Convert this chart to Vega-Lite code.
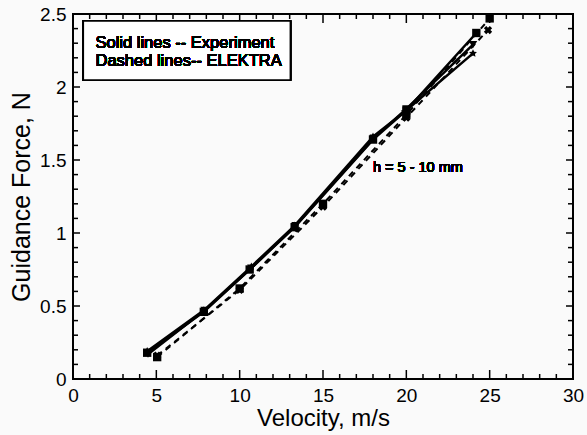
{
  "$schema": "https://vega.github.io/schema/vega-lite/v6.json",
  "width": 500,
  "height": 365,
  "autosize": "none",
  "padding": {"left": 73, "top": 14, "right": 14, "bottom": 56},
  "background": "#fafafa",
  "config": {
    "view": {"stroke": "black", "strokeWidth": 2},
    "font": "Liberation Sans",
    "axis": {"domain": false, "grid": false, "ticks": false, "labelFont": "Liberation Sans", "titleFont": "Liberation Sans", "labelColor": "black", "titleColor": "black", "titleFontWeight": "normal"}
  },
  "data": {"values": [
    {"series": "Exp h=5", "group": "Experiment", "v": 4.45, "F": 0.18},
    {"series": "Exp h=5", "group": "Experiment", "v": 7.85, "F": 0.46},
    {"series": "Exp h=5", "group": "Experiment", "v": 10.6, "F": 0.75},
    {"series": "Exp h=5", "group": "Experiment", "v": 13.3, "F": 1.04},
    {"series": "Exp h=5", "group": "Experiment", "v": 18.0, "F": 1.64},
    {"series": "Exp h=5", "group": "Experiment", "v": 20.0, "F": 1.84},
    {"series": "Exp h=5", "group": "Experiment", "v": 24.2, "F": 2.37},
    {"series": "Exp h=7.5", "group": "Experiment", "v": 4.5, "F": 0.17},
    {"series": "Exp h=7.5", "group": "Experiment", "v": 7.9, "F": 0.47},
    {"series": "Exp h=7.5", "group": "Experiment", "v": 10.7, "F": 0.76},
    {"series": "Exp h=7.5", "group": "Experiment", "v": 13.35, "F": 1.05},
    {"series": "Exp h=7.5", "group": "Experiment", "v": 18.05, "F": 1.65},
    {"series": "Exp h=7.5", "group": "Experiment", "v": 20.0, "F": 1.85},
    {"series": "Exp h=7.5", "group": "Experiment", "v": 24.0, "F": 2.29},
    {"series": "Exp h=10", "group": "Experiment", "v": 4.45, "F": 0.19},
    {"series": "Exp h=10", "group": "Experiment", "v": 7.85, "F": 0.47},
    {"series": "Exp h=10", "group": "Experiment", "v": 10.7, "F": 0.77},
    {"series": "Exp h=10", "group": "Experiment", "v": 13.3, "F": 1.05},
    {"series": "Exp h=10", "group": "Experiment", "v": 18.0, "F": 1.66},
    {"series": "Exp h=10", "group": "Experiment", "v": 19.9, "F": 1.83},
    {"series": "Exp h=10", "group": "Experiment", "v": 24.0, "F": 2.23},
    {"series": "ELEKTRA h=5", "group": "ELEKTRA", "v": 5.05, "F": 0.16},
    {"series": "ELEKTRA h=5", "group": "ELEKTRA", "v": 10.0, "F": 0.61},
    {"series": "ELEKTRA h=5", "group": "ELEKTRA", "v": 15.0, "F": 1.18},
    {"series": "ELEKTRA h=5", "group": "ELEKTRA", "v": 20.0, "F": 1.79},
    {"series": "ELEKTRA h=5", "group": "ELEKTRA", "v": 24.9, "F": 2.39},
    {"series": "ELEKTRA h=10", "group": "ELEKTRA", "v": 5.05, "F": 0.15},
    {"series": "ELEKTRA h=10", "group": "ELEKTRA", "v": 10.0, "F": 0.62},
    {"series": "ELEKTRA h=10", "group": "ELEKTRA", "v": 15.0, "F": 1.2},
    {"series": "ELEKTRA h=10", "group": "ELEKTRA", "v": 20.0, "F": 1.81},
    {"series": "ELEKTRA h=10", "group": "ELEKTRA", "v": 25.0, "F": 2.47}
  ]},
  "layer": [
    {
      "transform": [{"filter": "datum.group === 'Experiment'"}],
      "mark": {"type": "line", "color": "black", "strokeWidth": 2.5, "clip": true},
      "encoding": {
        "x": {"field": "v", "type": "quantitative", "scale": {"domain": [0, 30], "nice": false},
          "axis": {"orient": "bottom", "title": "Velocity, m/s", "titleFontSize": 24, "titlePadding": 1,
            "values": [0, 5, 10, 15, 20, 25, 30], "labelFontSize": 19, "labelPadding": 7, "labelFlush": false}},
        "y": {"field": "F", "type": "quantitative", "scale": {"domain": [0, 2.5], "nice": false},
          "axis": {"orient": "left", "title": "Guidance Force, N", "titleFontSize": 25, "titlePadding": 10, "titleBaseline": "alphabetic",
            "values": [0, 0.5, 1, 1.5, 2, 2.5], "format": "~g", "labelFontSize": 19, "labelPadding": 7, "labelFlush": false}},
        "detail": {"field": "series"}
      }
    },
    {
      "transform": [{"filter": "datum.group === 'ELEKTRA'"}],
      "mark": {"type": "line", "color": "black", "strokeWidth": 2, "strokeDash": [6, 5], "clip": true},
      "encoding": {
        "x": {"field": "v", "type": "quantitative"},
        "y": {"field": "F", "type": "quantitative"},
        "detail": {"field": "series"}
      }
    },
    {
      "mark": {"type": "point", "filled": true, "color": "black", "opacity": 1, "clip": true},
      "encoding": {
        "x": {"field": "v", "type": "quantitative"},
        "y": {"field": "F", "type": "quantitative"},
        "shape": {"field": "series", "type": "nominal", "legend": null,
          "scale": {"domain": ["Exp h=5", "Exp h=7.5", "Exp h=10", "ELEKTRA h=5", "ELEKTRA h=10"],
            "range": ["square", "triangle-down", "M0,-1L0.29,-0.4L0.95,-0.31L0.47,0.15L0.59,0.81L0,0.5L-0.59,0.81L-0.47,0.15L-0.95,-0.31L-0.29,-0.4Z", "cross", "square"]}},
        "angle": {"condition": {"test": "datum.series === 'ELEKTRA h=5'", "value": 45}, "value": 0},
        "size": {"value": 70}
      }
    },
    {
      "data": {"values": [{"t": 0}, {"t": 1}, {"t": 2}, {"t": 3}, {"t": 4}, {"t": 5}, {"t": 6}, {"t": 7}, {"t": 8}, {"t": 9}, {"t": 10}, {"t": 11}, {"t": 12}, {"t": 13}, {"t": 14}, {"t": 15}, {"t": 16}, {"t": 17}, {"t": 18}, {"t": 19}, {"t": 20}, {"t": 21}, {"t": 22}, {"t": 23}, {"t": 24}, {"t": 25}, {"t": 26}, {"t": 27}, {"t": 28}, {"t": 29}, {"t": 30}]},
      "mark": {"type": "point", "filled": false, "stroke": "black", "strokeWidth": 1.5, "opacity": 1, "shape": "M0,0L0,-2"},
      "encoding": {
        "x": {"field": "t", "type": "quantitative"},
        "y": {"datum": 0, "type": "quantitative"},
        "size": {"condition": {"test": "datum.t % 5 === 0", "value": 81}, "value": 25}
      }
    },
    {
      "data": {"values": [{"t": 0}, {"t": 1}, {"t": 2}, {"t": 3}, {"t": 4}, {"t": 5}, {"t": 6}, {"t": 7}, {"t": 8}, {"t": 9}, {"t": 10}, {"t": 11}, {"t": 12}, {"t": 13}, {"t": 14}, {"t": 15}, {"t": 16}, {"t": 17}, {"t": 18}, {"t": 19}, {"t": 20}, {"t": 21}, {"t": 22}, {"t": 23}, {"t": 24}, {"t": 25}, {"t": 26}, {"t": 27}, {"t": 28}, {"t": 29}, {"t": 30}]},
      "mark": {"type": "point", "filled": false, "stroke": "black", "strokeWidth": 1.5, "opacity": 1, "shape": "M0,0L0,2"},
      "encoding": {
        "x": {"field": "t", "type": "quantitative"},
        "y": {"datum": 2.5, "type": "quantitative"},
        "size": {"condition": {"test": "datum.t % 5 === 0", "value": 81}, "value": 25}
      }
    },
    {
      "data": {"values": [{"t": 0}, {"t": 0.1}, {"t": 0.2}, {"t": 0.3}, {"t": 0.4}, {"t": 0.5}, {"t": 0.6}, {"t": 0.7}, {"t": 0.8}, {"t": 0.9}, {"t": 1}, {"t": 1.1}, {"t": 1.2}, {"t": 1.3}, {"t": 1.4}, {"t": 1.5}, {"t": 1.6}, {"t": 1.7}, {"t": 1.8}, {"t": 1.9}, {"t": 2}, {"t": 2.1}, {"t": 2.2}, {"t": 2.3}, {"t": 2.4}, {"t": 2.5}]},
      "mark": {"type": "point", "filled": false, "stroke": "black", "strokeWidth": 1.5, "opacity": 1, "shape": "M0,0L2,0"},
      "encoding": {
        "y": {"field": "t", "type": "quantitative"},
        "x": {"datum": 0, "type": "quantitative"},
        "size": {"condition": {"test": "round(datum.t * 10) % 5 === 0", "value": 49}, "value": 25}
      }
    },
    {
      "data": {"values": [{"t": 0}, {"t": 0.1}, {"t": 0.2}, {"t": 0.3}, {"t": 0.4}, {"t": 0.5}, {"t": 0.6}, {"t": 0.7}, {"t": 0.8}, {"t": 0.9}, {"t": 1}, {"t": 1.1}, {"t": 1.2}, {"t": 1.3}, {"t": 1.4}, {"t": 1.5}, {"t": 1.6}, {"t": 1.7}, {"t": 1.8}, {"t": 1.9}, {"t": 2}, {"t": 2.1}, {"t": 2.2}, {"t": 2.3}, {"t": 2.4}, {"t": 2.5}]},
      "mark": {"type": "point", "filled": false, "stroke": "black", "strokeWidth": 1.5, "opacity": 1, "shape": "M0,0L-2,0"},
      "encoding": {
        "y": {"field": "t", "type": "quantitative"},
        "x": {"datum": 30, "type": "quantitative"},
        "size": {"condition": {"test": "round(datum.t * 10) % 5 === 0", "value": 49}, "value": 25}
      }
    },
    {
      "mark": {"type": "rect", "fill": "white", "stroke": "black", "strokeWidth": 1.5},
      "encoding": {
        "x": {"datum": 0.62, "type": "quantitative"},
        "x2": {"datum": 13.04},
        "y": {"datum": 2.452, "type": "quantitative"},
        "y2": {"datum": 2.048}
      }
    },
    {
      "mark": {"type": "text", "align": "left", "baseline": "middle", "fontSize": 16.5, "lineHeight": 18, "color": "black"},
      "encoding": {
        "x": {"datum": 1.35, "type": "quantitative"},
        "y": {"datum": 2.3, "type": "quantitative"},
        "text": {"value": ["Solid lines   -- Experiment", "Dashed lines-- ELEKTRA"]}
      }
    },
    {
      "mark": {"type": "text", "align": "left", "baseline": "middle", "fontSize": 14.5, "color": "black"},
      "encoding": {
        "x": {"datum": 18.0, "type": "quantitative"},
        "y": {"datum": 1.445, "type": "quantitative"},
        "text": {"value": "h = 5 - 10 mm"}
      }
    }
  ]
}
